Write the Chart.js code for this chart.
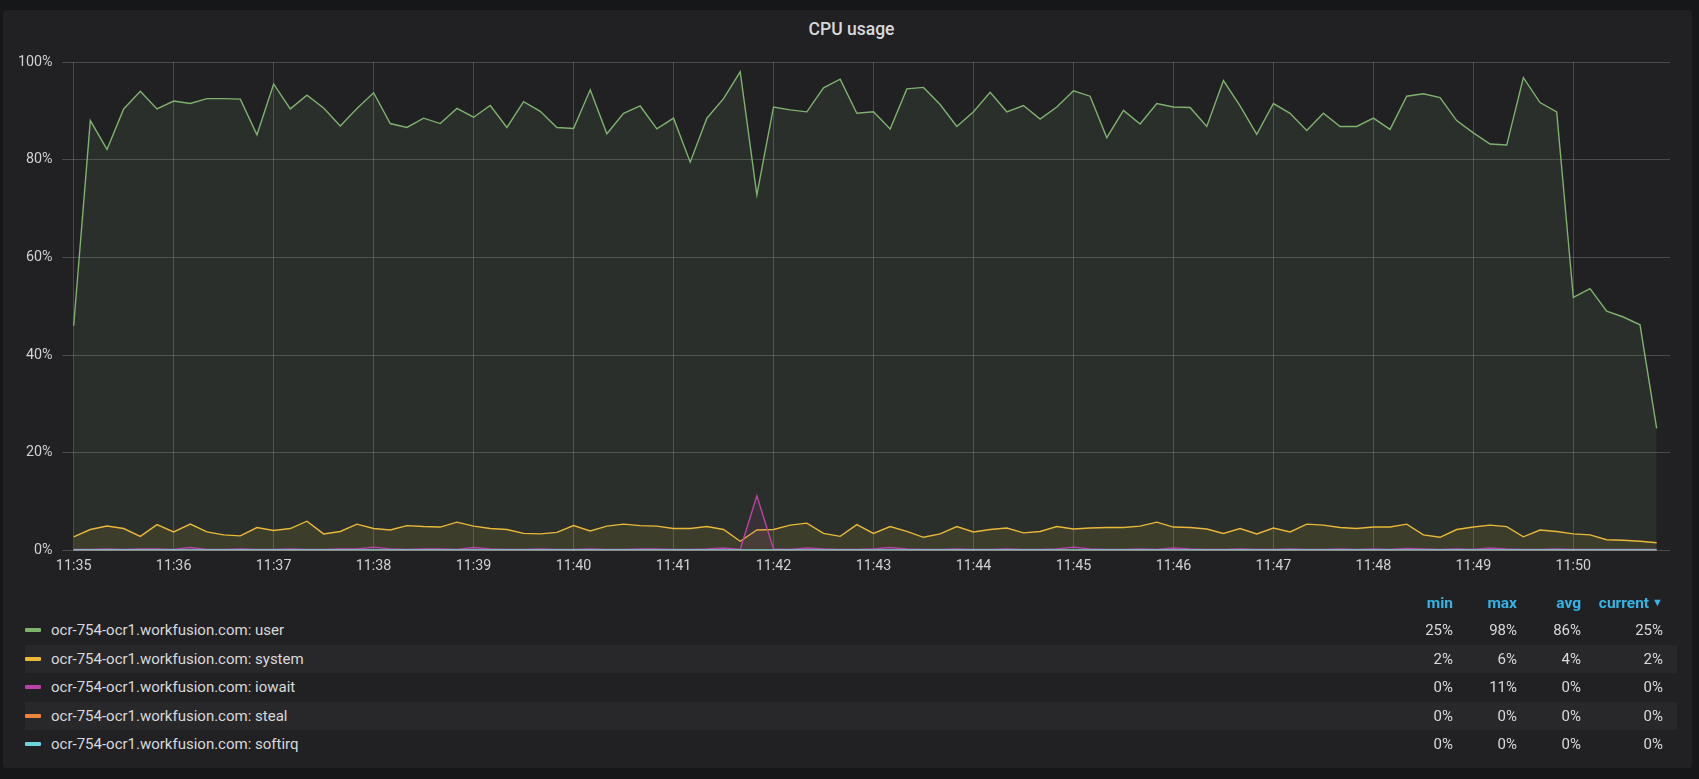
<!DOCTYPE html>
<html>
<head>
<meta charset="utf-8">
<script src="https://cdn.jsdelivr.net/npm/chart.js@4.4.1/dist/chart.umd.min.js"></script>
<style>
  html, body { margin: 0; padding: 0; }
  body { width: 1699px; height: 779px; background: #161719; overflow: hidden; position: relative; font-family: Roboto, "Noto Sans", sans-serif; color: #d8d9da; }
  .panel { position: absolute; left: 3px; top: 10px; width: 1689px; height: 758px; background: #212124; border-radius: 3px; }
  .title { position: absolute; left: 0; width: 1703px; top: 18px; text-align: center; font-size: 17.5px; font-weight: 500; color: #d8d9da; line-height: 22px; }
  .plot { position: absolute; left: 0; top: 0; width: 1699px; height: 600px; }
  .lg-row { position: absolute; left: 25px; width: 1652px; height: 28px; }
  .lg-row.odd { background: #28282b; }
  .swatch { position: absolute; left: 0; top: 12px; width: 16px; height: 4px; border-radius: 1px; }
  .lg-name { position: absolute; left: 26px; top: 0; line-height: 28px; font-size: 15px; white-space: nowrap; }
  .lg-val { position: absolute; top: 0; line-height: 28px; font-size: 15px; text-align: right; }
  .lg-head { position: absolute; line-height: 22px; font-size: 15.5px; font-weight: 700; color: #33b5e5; text-align: right; white-space: nowrap; }
  .caret { font-size: 11px; vertical-align: 2px; margin-left: 3px; }
</style>
</head>
<body>
<div class="panel"></div>
<div class="title">CPU usage</div>
<div class="plot"><canvas id="cpuChart"></canvas></div>
<div id="legend"></div>
<script>
// 10 second samples, 11:35:00 .. 11:50:50
var tickLabels = ['11:35', '11:36', '11:37', '11:38', '11:39', '11:40', '11:41', '11:42',
  '11:43', '11:44', '11:45', '11:46', '11:47', '11:48', '11:49', '11:50'];

var seriesNames = [
  'ocr-754-ocr1.workfusion.com: user',
  'ocr-754-ocr1.workfusion.com: system',
  'ocr-754-ocr1.workfusion.com: iowait',
  'ocr-754-ocr1.workfusion.com: steal',
  'ocr-754-ocr1.workfusion.com: softirq'
];
var seriesColors = ['#7eb26d', '#eab839', '#ba43a9', '#ef843c', '#6ed0e0'];

var userCpu = [
  46, 88, 82.1, 90.4, 94, 90.4, 92, 91.5, 92.5, 92.5,
  92.4, 85.1, 95.5, 90.4, 93.2, 90.6, 86.9, 90.5, 93.7, 87.4,
  86.6, 88.5, 87.4, 90.5, 88.7, 91.1, 86.6, 91.9, 89.9, 86.6,
  86.4, 94.3, 85.3, 89.5, 91, 86.3, 88.5, 79.5, 88.5, 92.5,
  98, 72.8, 90.8, 90.2, 89.8, 94.7, 96.5, 89.5, 89.8, 86.3,
  94.5, 94.8, 91.3, 86.8, 89.8, 93.8, 89.8, 91.1, 88.3, 90.8,
  94.1, 93, 84.5, 90.1, 87.3, 91.5, 90.8, 90.7, 86.8, 96.2,
  91, 85.2, 91.5, 89.5, 86, 89.5, 86.8, 86.8, 88.5, 86.2,
  93, 93.5, 92.7, 88, 85.5, 83.2, 83, 96.8, 91.7, 89.8,
  51.8, 53.6, 49, 47.8, 46.2, 25
];
var systemCpu = [
  2.8, 4.3, 5.0, 4.5, 2.9, 5.3, 3.8, 5.4, 3.8, 3.2,
  3.0, 4.7, 4.1, 4.5, 6.0, 3.4, 3.9, 5.4, 4.5, 4.2,
  5.1, 4.9, 4.8, 5.8, 5.0, 4.5, 4.3, 3.5, 3.4, 3.7,
  5.1, 4.0, 5.0, 5.4, 5.1, 5.0, 4.5, 4.5, 4.9, 4.3,
  1.9, 4.2, 4.3, 5.2, 5.6, 3.5, 2.9, 5.3, 3.5, 4.9,
  3.9, 2.7, 3.4, 4.9, 3.8, 4.3, 4.6, 3.6, 3.9, 4.9,
  4.4, 4.6, 4.7, 4.7, 5.0, 5.8, 4.8, 4.7, 4.4, 3.5,
  4.5, 3.4, 4.6, 3.8, 5.4, 5.2, 4.7, 4.5, 4.8, 4.8,
  5.4, 3.2, 2.7, 4.3, 4.8, 5.2, 4.9, 2.8, 4.2, 3.9,
  3.4, 3.2, 2.2, 2.1, 1.9, 1.6
];
var iowaitCpu = [
  0.2, 0.2, 0.3, 0.2, 0.3, 0.3, 0.2, 0.6, 0.2, 0.2,
  0.3, 0.2, 0.2, 0.3, 0.2, 0.2, 0.3, 0.3, 0.7, 0.3,
  0.2, 0.3, 0.3, 0.2, 0.6, 0.3, 0.2, 0.2, 0.3, 0.2,
  0.2, 0.3, 0.2, 0.2, 0.3, 0.3, 0.2, 0.2, 0.3, 0.5,
  0.2, 11.2, 0.3, 0.2, 0.5, 0.3, 0.2, 0.2, 0.3, 0.6,
  0.3, 0.2, 0.2, 0.3, 0.2, 0.2, 0.3, 0.2, 0.2, 0.3,
  0.7, 0.3, 0.2, 0.2, 0.3, 0.2, 0.5, 0.3, 0.2, 0.2,
  0.3, 0.2, 0.2, 0.3, 0.2, 0.2, 0.3, 0.2, 0.3, 0.2,
  0.4, 0.3, 0.2, 0.3, 0.2, 0.5, 0.3, 0.2, 0.2, 0.3,
  0.2, 0.2, 0.2, 0.2, 0.2, 0.2
];
var stealCpu = [
  0, 0, 0, 0, 0, 0, 0, 0, 0, 0, 0, 0, 0, 0, 0, 0, 0, 0, 0, 0,
  0, 0, 0, 0, 0, 0, 0, 0, 0, 0, 0, 0, 0, 0, 0, 0, 0, 0, 0, 0,
  0, 0, 0, 0, 0, 0, 0, 0, 0, 0, 0, 0, 0, 0, 0, 0, 0, 0, 0, 0,
  0, 0, 0, 0, 0, 0, 0, 0, 0, 0, 0, 0, 0, 0, 0, 0, 0, 0, 0, 0,
  0, 0, 0, 0, 0, 0, 0, 0, 0, 0, 0, 0, 0, 0, 0, 0
];
var softirqCpu = [
  0.1, 0.1, 0.1, 0.1, 0.1, 0.1, 0.1, 0.1, 0.1, 0.1, 0.1, 0.1, 0.1, 0.1, 0.1, 0.1, 0.1, 0.1, 0.1, 0.1,
  0.1, 0.1, 0.1, 0.1, 0.1, 0.1, 0.1, 0.1, 0.1, 0.1, 0.1, 0.1, 0.1, 0.1, 0.1, 0.1, 0.1, 0.1, 0.1, 0.1,
  0.1, 0.1, 0.1, 0.1, 0.1, 0.1, 0.1, 0.1, 0.1, 0.1, 0.1, 0.1, 0.1, 0.1, 0.1, 0.1, 0.1, 0.1, 0.1, 0.1,
  0.1, 0.1, 0.1, 0.1, 0.1, 0.1, 0.1, 0.1, 0.1, 0.1, 0.1, 0.1, 0.1, 0.1, 0.1, 0.1, 0.1, 0.1, 0.1, 0.1,
  0.1, 0.1, 0.1, 0.1, 0.1, 0.1, 0.1, 0.1, 0.1, 0.1, 0.1, 0.1, 0.1, 0.1, 0.1, 0.1
];

var allSeries = [userCpu, systemCpu, iowaitCpu, stealCpu, softirqCpu];

function hexToRgba(hex, a) {
  var n = parseInt(hex.slice(1), 16);
  return 'rgba(' + (n >> 16) + ',' + ((n >> 8) & 255) + ',' + (n & 255) + ',' + a + ')';
}

var datasets = allSeries.map(function(values, k) {
  return {
    label: seriesNames[k],
    data: values.map(function(v, i) { return { x: i * 10, y: v }; }),
    borderColor: seriesColors[k],
    backgroundColor: hexToRgba(seriesColors[k], 0.1),
    borderWidth: 1.4,
    pointRadius: 0,
    tension: 0,
    fill: 'origin',
    order: allSeries.length - k
  };
});

var gridColor = 'rgba(255,255,255,0.19)';
var tickFont = { family: 'Roboto', size: 14.3 };

new Chart(document.getElementById('cpuChart').getContext('2d'), {
  type: 'line',
  data: { datasets: datasets },
  options: {
    responsive: true,
    maintainAspectRatio: false,
    animation: false,
    layout: { padding: { left: 0, top: 62, right: 29, bottom: 19.5 } },
    plugins: { legend: { display: false }, tooltip: { enabled: false } },
    scales: {
      x: {
        type: 'linear',
        min: -7,
        max: 958,
        afterBuildTicks: function(scale) {
          scale.ticks = tickLabels.map(function(l, i) { return { value: i * 60 }; });
        },
        afterFit: function(scale) { scale.height = 30; },
        ticks: {
          color: '#d0d1d2',
          font: tickFont,
          padding: 7,
          maxRotation: 0,
          autoSkip: false,
          callback: function(v) { return tickLabels[Math.round(v / 60)]; }
        },
        grid: { color: gridColor, drawTicks: false },
        border: { display: false }
      },
      y: {
        min: 0,
        max: 100,
        afterFit: function(scale) { scale.width = 62; },
        ticks: {
          stepSize: 20,
          color: '#d0d1d2',
          font: tickFont,
          padding: 9.5,
          callback: function(v) { return v + '%'; }
        },
        grid: { color: gridColor, drawTicks: false },
        border: { display: false }
      }
    }
  }
});

// legend table with min / max / avg / current
var statRight = [1453, 1517, 1581, 1663];
var statHeads = ['min', 'max', 'avg', 'current'];
var legend = document.getElementById('legend');

statHeads.forEach(function(h, c) {
  var d = document.createElement('div');
  d.className = 'lg-head';
  d.style.top = '592px';
  d.style.right = (1699 - statRight[c]) + 'px';
  d.innerHTML = h + (c === 3 ? '<span class="caret">&#9660;</span>' : '');
  legend.appendChild(d);
});

allSeries.forEach(function(values, k) {
  var mn = Math.min.apply(null, values);
  var mx = Math.max.apply(null, values);
  var avg = values.reduce(function(a, b) { return a + b; }, 0) / values.length;
  var cur = values[values.length - 1];
  var stats = [mn, mx, avg, cur];

  var row = document.createElement('div');
  row.className = 'lg-row' + (k % 2 === 1 ? ' odd' : '');
  row.style.top = (616 + k * 28.6) + 'px';
  row.innerHTML = '<div class="swatch" style="background:' + seriesColors[k] + '"></div>' +
    '<div class="lg-name">' + seriesNames[k] + '</div>';
  stats.forEach(function(s, c) {
    var v = document.createElement('div');
    v.className = 'lg-val';
    v.style.right = (1677 - statRight[c]) + 'px';
    v.textContent = Math.round(s) + '%';
    row.appendChild(v);
  });
  legend.appendChild(row);
});
</script>
</body>
</html>
